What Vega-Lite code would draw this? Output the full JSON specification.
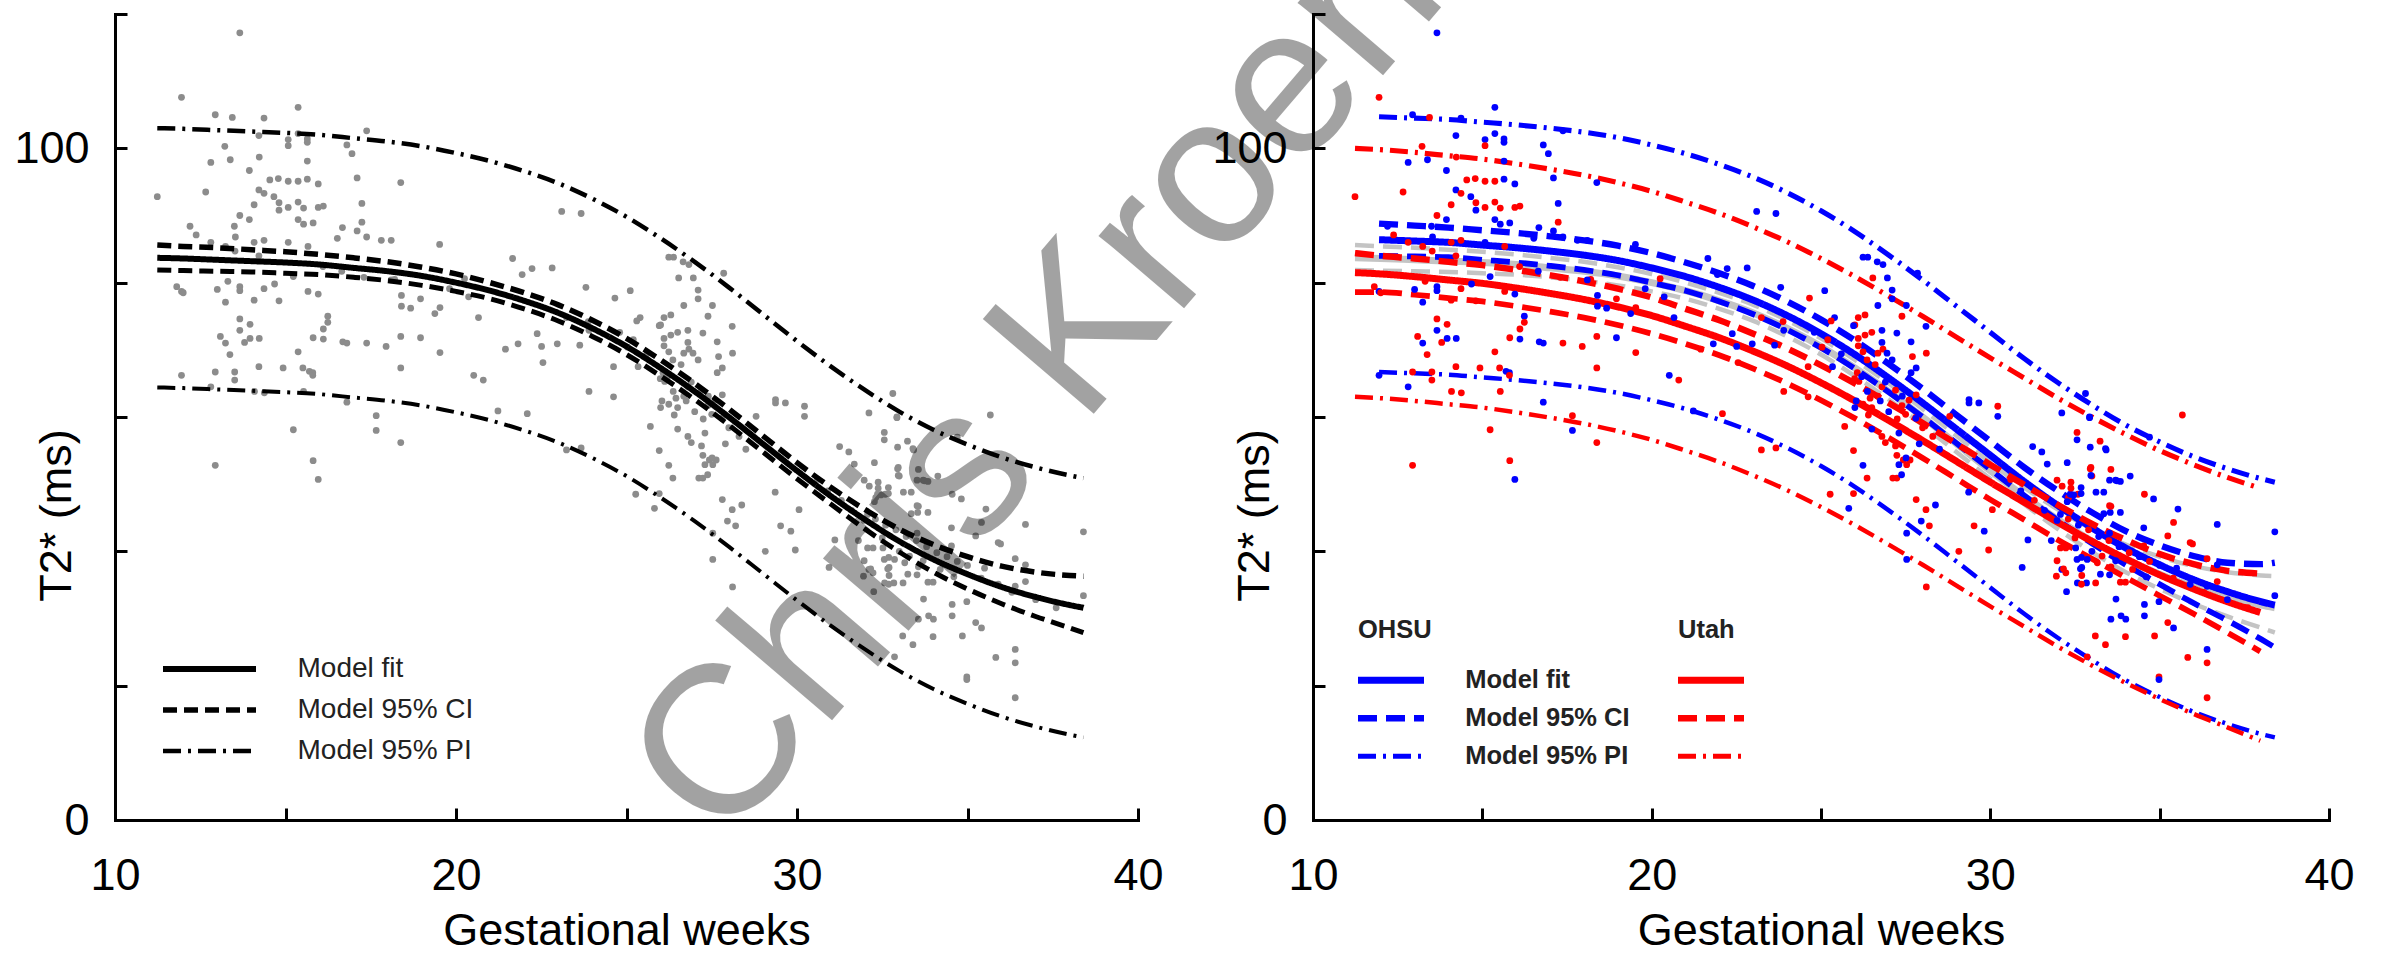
{
"$schema": "https://vega.github.io/schema/vega-lite/v6.json",
"background": "white",
"padding": {"left": 13, "top": -284, "right": 0, "bottom": 0},
"bounds": "flush",
"spacing": 175,
"config": {
  "font": "Liberation Sans",
  "view": {"stroke": null},
  "axis": {"grid": false, "domainColor": "black", "domainWidth": 3, "domainCap": "square", "tickColor": "black", "tickWidth": 3, "tickSize": -12, "labelFont": "Liberation Sans", "labelFontSize": 45, "labelColor": "black", "titleFont": "Liberation Sans", "titleFontSize": 45, "titleFontWeight": "normal", "titleColor": "black", "labelFlush": false, "labelOverlap": false},
  "axisX": {"labelPadding": 45, "titleBaseline": "alphabetic", "titleY": 124},
  "axisY": {"labelPadding": 38, "titleBaseline": "alphabetic", "titleX": -45, "titleY": 501, "titleAngle": 270, "titleAlign": "center"}
},
"datasets": {
"curves": [
{"g":"A","x":11.24,"f":83.7,"cu":85.6,"cl":81.9,"pu":103.0,"pl":64.4},
{"g":"A","x":12,"f":83.6,"cu":85.4,"cl":81.8,"pu":102.9,"pl":64.3},
{"g":"A","x":13,"f":83.4,"cu":85.2,"cl":81.7,"pu":102.7,"pl":64.1},
{"g":"A","x":14,"f":83.2,"cu":84.9,"cl":81.6,"pu":102.5,"pl":63.9},
{"g":"A","x":15,"f":83.0,"cu":84.6,"cl":81.4,"pu":102.3,"pl":63.7},
{"g":"A","x":16,"f":82.7,"cu":84.2,"cl":81.2,"pu":102.0,"pl":63.4},
{"g":"A","x":17,"f":82.2,"cu":83.7,"cl":80.8,"pu":101.5,"pl":62.9},
{"g":"A","x":18,"f":81.7,"cu":83.1,"cl":80.3,"pu":101.0,"pl":62.4},
{"g":"A","x":19,"f":81.0,"cu":82.3,"cl":79.6,"pu":100.3,"pl":61.7},
{"g":"A","x":20,"f":80.0,"cu":81.3,"cl":78.7,"pu":99.3,"pl":60.7},
{"g":"A","x":21,"f":78.8,"cu":80.0,"cl":77.6,"pu":98.1,"pl":59.5},
{"g":"A","x":22,"f":77.3,"cu":78.5,"cl":76.1,"pu":96.6,"pl":58.0},
{"g":"A","x":23,"f":75.5,"cu":76.7,"cl":74.3,"pu":94.8,"pl":56.2},
{"g":"A","x":24,"f":73.2,"cu":74.4,"cl":72.0,"pu":92.5,"pl":53.9},
{"g":"A","x":25,"f":70.5,"cu":71.7,"cl":69.3,"pu":89.8,"pl":51.2},
{"g":"A","x":26,"f":67.3,"cu":68.5,"cl":66.1,"pu":86.6,"pl":48.0},
{"g":"A","x":27,"f":63.8,"cu":65.0,"cl":62.6,"pu":83.1,"pl":44.5},
{"g":"A","x":28,"f":60.0,"cu":61.2,"cl":58.8,"pu":79.3,"pl":40.7},
{"g":"A","x":29,"f":56.0,"cu":57.2,"cl":54.8,"pu":75.3,"pl":36.7},
{"g":"A","x":30,"f":52.0,"cu":53.2,"cl":50.8,"pu":71.3,"pl":32.7},
{"g":"A","x":31,"f":48.2,"cu":49.5,"cl":47.0,"pu":67.5,"pl":28.9},
{"g":"A","x":32,"f":44.7,"cu":46.2,"cl":43.3,"pu":64.0,"pl":25.4},
{"g":"A","x":33,"f":41.5,"cu":43.3,"cl":39.9,"pu":60.8,"pl":22.2},
{"g":"A","x":34,"f":38.8,"cu":41.0,"cl":36.9,"pu":58.1,"pl":19.5},
{"g":"A","x":35,"f":36.6,"cu":39.2,"cl":34.4,"pu":55.9,"pl":17.3},
{"g":"A","x":36,"f":34.7,"cu":37.8,"cl":32.2,"pu":54.0,"pl":15.4},
{"g":"A","x":37,"f":33.2,"cu":36.9,"cl":30.3,"pu":52.5,"pl":13.9},
{"g":"A","x":38,"f":32.0,"cu":36.4,"cl":28.6,"pu":51.3,"pl":12.7},
{"g":"A","x":38.4,"f":31.6,"cu":36.3,"cl":27.9,"pu":50.9,"pl":12.3},
{"g":"O","x":11.95,"f":86.4,"cu":88.8,"cl":84.0,"pu":104.7,"pl":66.7},
{"g":"O","x":13,"f":86.2,"cu":88.5,"cl":83.9,"pu":104.5,"pl":66.5},
{"g":"O","x":14,"f":86.0,"cu":88.2,"cl":83.8,"pu":104.3,"pl":66.3},
{"g":"O","x":15,"f":85.6,"cu":87.8,"cl":83.4,"pu":103.9,"pl":65.9},
{"g":"O","x":16,"f":85.2,"cu":87.4,"cl":83.0,"pu":103.5,"pl":65.5},
{"g":"O","x":17,"f":84.7,"cu":86.9,"cl":82.5,"pu":103.0,"pl":65.0},
{"g":"O","x":18,"f":84.1,"cu":86.3,"cl":81.9,"pu":102.4,"pl":64.4},
{"g":"O","x":19,"f":83.3,"cu":85.5,"cl":81.1,"pu":101.6,"pl":63.6},
{"g":"O","x":20,"f":82.2,"cu":84.4,"cl":80.0,"pu":100.5,"pl":62.5},
{"g":"O","x":21,"f":80.9,"cu":83.0,"cl":78.8,"pu":99.2,"pl":61.2},
{"g":"O","x":22,"f":79.3,"cu":81.4,"cl":77.2,"pu":97.6,"pl":59.6},
{"g":"O","x":23,"f":77.4,"cu":79.5,"cl":75.3,"pu":95.7,"pl":57.7},
{"g":"O","x":24,"f":75.1,"cu":77.2,"cl":73.0,"pu":93.4,"pl":55.4},
{"g":"O","x":25,"f":72.4,"cu":74.5,"cl":70.3,"pu":90.7,"pl":52.7},
{"g":"O","x":26,"f":69.3,"cu":71.4,"cl":67.2,"pu":87.6,"pl":49.6},
{"g":"O","x":27,"f":65.8,"cu":67.9,"cl":63.7,"pu":84.1,"pl":46.1},
{"g":"O","x":28,"f":62.1,"cu":64.2,"cl":60.0,"pu":80.4,"pl":42.4},
{"g":"O","x":29,"f":58.2,"cu":60.3,"cl":56.1,"pu":76.5,"pl":38.5},
{"g":"O","x":30,"f":54.3,"cu":56.4,"cl":52.2,"pu":72.6,"pl":34.6},
{"g":"O","x":31,"f":50.4,"cu":52.5,"cl":48.3,"pu":68.7,"pl":30.7},
{"g":"O","x":32,"f":46.8,"cu":49.0,"cl":44.6,"pu":65.1,"pl":27.1},
{"g":"O","x":33,"f":43.5,"cu":45.8,"cl":41.2,"pu":61.8,"pl":23.8},
{"g":"O","x":34,"f":40.5,"cu":43.0,"cl":38.0,"pu":58.8,"pl":20.8},
{"g":"O","x":35,"f":38.0,"cu":40.9,"cl":35.1,"pu":56.3,"pl":18.3},
{"g":"O","x":36,"f":35.8,"cu":39.3,"cl":32.3,"pu":54.1,"pl":16.1},
{"g":"O","x":37,"f":34.0,"cu":38.3,"cl":29.7,"pu":52.3,"pl":14.3},
{"g":"O","x":38,"f":32.5,"cu":38.1,"cl":26.9,"pu":50.8,"pl":12.8},
{"g":"O","x":38.4,"f":32.0,"cu":38.3,"cl":25.7,"pu":50.3,"pl":12.3},
{"g":"U","x":11.24,"f":81.5,"cu":84.4,"cl":78.6,"pu":100.0,"pl":63.0},
{"g":"U","x":12,"f":81.3,"cu":84.0,"cl":78.6,"pu":99.8,"pl":62.8},
{"g":"U","x":13,"f":80.9,"cu":83.6,"cl":78.2,"pu":99.4,"pl":62.4},
{"g":"U","x":14,"f":80.4,"cu":83.1,"cl":77.7,"pu":98.9,"pl":61.9},
{"g":"U","x":15,"f":79.9,"cu":82.6,"cl":77.2,"pu":98.4,"pl":61.4},
{"g":"U","x":16,"f":79.2,"cu":81.9,"cl":76.5,"pu":97.7,"pl":60.7},
{"g":"U","x":17,"f":78.4,"cu":81.1,"cl":75.7,"pu":96.9,"pl":59.9},
{"g":"U","x":18,"f":77.5,"cu":80.2,"cl":74.8,"pu":96.0,"pl":59.0},
{"g":"U","x":19,"f":76.4,"cu":79.1,"cl":73.7,"pu":94.9,"pl":57.9},
{"g":"U","x":20,"f":75.1,"cu":77.8,"cl":72.4,"pu":93.6,"pl":56.6},
{"g":"U","x":21,"f":73.5,"cu":76.1,"cl":70.9,"pu":92.0,"pl":55.0},
{"g":"U","x":22,"f":71.8,"cu":74.4,"cl":69.2,"pu":90.3,"pl":53.3},
{"g":"U","x":23,"f":69.8,"cu":72.4,"cl":67.2,"pu":88.3,"pl":51.3},
{"g":"U","x":24,"f":67.6,"cu":70.2,"cl":65.0,"pu":86.1,"pl":49.1},
{"g":"U","x":25,"f":65.1,"cu":67.7,"cl":62.5,"pu":83.6,"pl":46.6},
{"g":"U","x":26,"f":62.4,"cu":65.0,"cl":59.8,"pu":80.9,"pl":43.9},
{"g":"U","x":27,"f":59.5,"cu":62.1,"cl":56.9,"pu":78.0,"pl":41.0},
{"g":"U","x":28,"f":56.5,"cu":59.1,"cl":53.9,"pu":75.0,"pl":38.0},
{"g":"U","x":29,"f":53.4,"cu":56.0,"cl":50.8,"pu":71.9,"pl":34.9},
{"g":"U","x":30,"f":50.3,"cu":52.9,"cl":47.7,"pu":68.8,"pl":31.8},
{"g":"U","x":31,"f":47.3,"cu":49.9,"cl":44.7,"pu":65.8,"pl":28.8},
{"g":"U","x":32,"f":44.3,"cu":46.9,"cl":41.7,"pu":62.8,"pl":25.8},
{"g":"U","x":33,"f":41.5,"cu":44.1,"cl":38.9,"pu":60.0,"pl":23.0},
{"g":"U","x":34,"f":38.9,"cu":41.7,"cl":36.1,"pu":57.4,"pl":20.4},
{"g":"U","x":35,"f":36.5,"cu":39.6,"cl":33.4,"pu":55.0,"pl":18.0},
{"g":"U","x":36,"f":34.4,"cu":38.1,"cl":30.7,"pu":52.9,"pl":15.8},
{"g":"U","x":37,"f":32.5,"cu":37.1,"cl":27.9,"pu":51.0,"pl":13.8},
{"g":"U","x":37.97,"f":30.9,"cu":36.7,"cl":25.1,"pu":49.4,"pl":11.8}
],
"pts": [
{"x":11.95,"y":107.6,"s":"U"},{"x":15.37,"y":106.1,"s":"O"},{"x":12.94,"y":105.0,"s":"O"},{"x":13.44,"y":104.6,"s":"U"},{"x":14.37,"y":104.5,"s":"O"},
{"x":17.38,"y":102.6,"s":"O"},{"x":13.22,"y":100.3,"s":"U"},{"x":14.22,"y":101.9,"s":"O"},{"x":15.08,"y":101.3,"s":"O"},{"x":15.08,"y":100.4,"s":"U"},
{"x":15.37,"y":102.2,"s":"O"},{"x":15.64,"y":101.4,"s":"O"},{"x":15.64,"y":100.9,"s":"O"},{"x":16.8,"y":100.5,"s":"O"},{"x":16.95,"y":99.2,"s":"O"},
{"x":14.23,"y":98.7,"s":"U"},{"x":12.81,"y":97.9,"s":"O"},{"x":13.38,"y":98.3,"s":"O"},{"x":13.94,"y":96.7,"s":"O"},{"x":15.64,"y":98.1,"s":"O"},
{"x":12.66,"y":93.5,"s":"U"},{"x":11.24,"y":92.8,"s":"U"},{"x":14.54,"y":95.3,"s":"U"},{"x":14.79,"y":95.5,"s":"U"},{"x":15.08,"y":95.1,"s":"U"},
{"x":15.37,"y":95.1,"s":"U"},{"x":15.64,"y":95.4,"s":"O"},{"x":15.96,"y":94.7,"s":"O"},{"x":17.1,"y":95.6,"s":"O"},{"x":18.38,"y":94.9,"s":"O"},
{"x":14.22,"y":93.8,"s":"O"},{"x":14.37,"y":93.3,"s":"U"},{"x":14.66,"y":92.8,"s":"O"},{"x":14.08,"y":91.6,"s":"U"},{"x":14.81,"y":91.9,"s":"U"},
{"x":14.81,"y":90.8,"s":"O"},{"x":15.08,"y":91.2,"s":"U"},{"x":15.37,"y":92.0,"s":"U"},{"x":15.53,"y":91.1,"s":"U"},{"x":15.96,"y":91.2,"s":"U"},
{"x":16.11,"y":91.4,"s":"U"},{"x":17.24,"y":91.8,"s":"O"},{"x":13.66,"y":90.0,"s":"U"},{"x":13.94,"y":89.4,"s":"O"},{"x":15.37,"y":89.4,"s":"O"},
{"x":15.53,"y":88.7,"s":"O"},{"x":15.81,"y":88.9,"s":"O"},{"x":17.24,"y":89.0,"s":"U"},{"x":16.67,"y":88.2,"s":"O"},{"x":17.1,"y":87.7,"s":"O"},
{"x":12.2,"y":88.4,"s":"O"},{"x":13.5,"y":88.4,"s":"O"},{"x":17.38,"y":86.8,"s":"O"},{"x":17.81,"y":86.3,"s":"O"},{"x":18.1,"y":86.3,"s":"O"},
{"x":19.52,"y":85.7,"s":"O"},{"x":16.52,"y":86.6,"s":"O"},{"x":12.38,"y":87.1,"s":"U"},{"x":12.81,"y":86.0,"s":"U"},{"x":13.24,"y":85.4,"s":"U"},
{"x":13.52,"y":84.7,"s":"U"},{"x":14.08,"y":86.0,"s":"U"},{"x":14.37,"y":86.3,"s":"U"},{"x":13.53,"y":86.8,"s":"O"},{"x":15.08,"y":86.0,"s":"O"},
{"x":15.66,"y":85.4,"s":"U"},{"x":21.66,"y":83.6,"s":"O"},{"x":22.23,"y":82.1,"s":"O"},{"x":21.94,"y":81.2,"s":"O"},{"x":20.25,"y":80.6,"s":"U"},
{"x":14.22,"y":84.0,"s":"U"},{"x":16.1,"y":82.4,"s":"U"},{"x":15.23,"y":80.9,"s":"O"},{"x":16.65,"y":81.7,"s":"O"},{"x":17.3,"y":80.8,"s":"U"},
{"x":18.2,"y":80.5,"s":"U"},{"x":18.1,"y":80.4,"s":"O"},{"x":11.81,"y":79.4,"s":"U"},{"x":11.95,"y":78.7,"s":"O"},{"x":13.31,"y":80.2,"s":"U"},
{"x":13.66,"y":79.4,"s":"O"},{"x":13.66,"y":78.8,"s":"O"},{"x":14.37,"y":79.1,"s":"U"},{"x":14.68,"y":79.8,"s":"O"},{"x":14.08,"y":77.4,"s":"U"},
{"x":14.81,"y":77.3,"s":"U"},{"x":13.24,"y":77.1,"s":"O"},{"x":15.66,"y":78.7,"s":"U"},{"x":15.96,"y":78.3,"s":"O"},{"x":18.4,"y":78.1,"s":"O"},
{"x":18.4,"y":76.5,"s":"O"},{"x":18.67,"y":76.2,"s":"O"},{"x":18.96,"y":77.6,"s":"U"},{"x":19.53,"y":76.3,"s":"U"},{"x":19.38,"y":75.4,"s":"O"},
{"x":19.81,"y":79.1,"s":"O"},{"x":20.37,"y":77.9,"s":"O"},{"x":20.66,"y":74.8,"s":"O"},{"x":21.82,"y":70.9,"s":"O"},{"x":22.38,"y":72.4,"s":"O"},
{"x":22.55,"y":68.1,"s":"U"},{"x":22.51,"y":70.5,"s":"O"},{"x":16.24,"y":75.0,"s":"O"},{"x":16.24,"y":74.1,"s":"U"},{"x":16.11,"y":73.1,"s":"U"},
{"x":13.66,"y":74.6,"s":"U"},{"x":13.66,"y":72.9,"s":"O"},{"x":13.96,"y":73.8,"s":"U"},{"x":13.09,"y":72.0,"s":"U"},{"x":13.24,"y":71.0,"s":"O"},
{"x":13.8,"y":71.1,"s":"U"},{"x":13.96,"y":71.7,"s":"O"},{"x":14.23,"y":71.7,"s":"O"},{"x":13.37,"y":69.3,"s":"U"},{"x":15.81,"y":71.8,"s":"U"},
{"x":16.11,"y":71.6,"s":"O"},{"x":16.68,"y":71.2,"s":"O"},{"x":16.8,"y":71.0,"s":"O"},{"x":17.38,"y":71.0,"s":"U"},{"x":17.95,"y":70.5,"s":"U"},
{"x":18.38,"y":72.0,"s":"U"},{"x":18.96,"y":71.8,"s":"O"},{"x":19.53,"y":69.6,"s":"U"},{"x":15.37,"y":69.7,"s":"U"},{"x":14.22,"y":67.5,"s":"U"},
{"x":14.93,"y":67.3,"s":"U"},{"x":15.51,"y":67.3,"s":"U"},{"x":15.7,"y":66.8,"s":"O"},{"x":15.8,"y":66.6,"s":"O"},{"x":15.8,"y":66.2,"s":"U"},
{"x":18.38,"y":67.3,"s":"U"},{"x":20.52,"y":66.2,"s":"O"},{"x":20.8,"y":65.5,"s":"U"},{"x":11.95,"y":66.2,"s":"O"},{"x":12.94,"y":66.7,"s":"U"},
{"x":13.51,"y":66.7,"s":"U"},{"x":13.51,"y":65.5,"s":"U"},{"x":12.81,"y":64.5,"s":"O"},{"x":14.09,"y":63.8,"s":"U"},{"x":14.38,"y":63.6,"s":"U"},
{"x":15.53,"y":63.8,"s":"U"},{"x":16.8,"y":62.2,"s":"O"},{"x":21.23,"y":60.9,"s":"O"},{"x":22.09,"y":60.5,"s":"U"},{"x":17.66,"y":60.2,"s":"U"},
{"x":17.66,"y":58.0,"s":"O"},{"x":15.23,"y":58.1,"s":"U"},{"x":18.38,"y":56.2,"s":"U"},{"x":15.81,"y":53.5,"s":"U"},{"x":15.96,"y":50.7,"s":"O"},
{"x":12.94,"y":52.8,"s":"U"},{"x":13.66,"y":117.2,"s":"O"},{"x":12.0,"y":78.5,"s":"U"},{"x":13.0,"y":79.0,"s":"O"},
{"x":23.1,"y":90.6,"s":"O"},{"x":23.67,"y":90.3,"s":"O"},{"x":22.82,"y":82.2,"s":"O"},{"x":26.24,"y":83.8,"s":"O"},{"x":26.38,"y":83.8,"s":"O"},
{"x":26.66,"y":83.1,"s":"O"},{"x":26.83,"y":82.7,"s":"O"},{"x":27.85,"y":81.4,"s":"O"},{"x":26.96,"y":80.7,"s":"O"},{"x":26.53,"y":80.7,"s":"U"},
{"x":23.81,"y":79.3,"s":"O"},{"x":25.11,"y":78.8,"s":"O"},{"x":24.66,"y":77.7,"s":"U"},{"x":27.1,"y":78.9,"s":"O"},{"x":27.1,"y":77.6,"s":"O"},
{"x":27.52,"y":76.6,"s":"O"},{"x":26.68,"y":76.6,"s":"O"},{"x":27.39,"y":75.0,"s":"U"},{"x":28.1,"y":73.5,"s":"O"},{"x":26.3,"y":75.2,"s":"U"},
{"x":26.1,"y":74.8,"s":"U"},{"x":26.0,"y":73.7,"s":"U"},{"x":25.4,"y":74.8,"s":"O"},{"x":25.3,"y":74.3,"s":"U"},{"x":25.96,"y":73.6,"s":"O"},
{"x":26.8,"y":72.9,"s":"O"},{"x":27.24,"y":72.5,"s":"O"},{"x":26.5,"y":72.6,"s":"U"},{"x":26.1,"y":71.7,"s":"U"},{"x":26.3,"y":72.2,"s":"U"},
{"x":26.8,"y":71.1,"s":"O"},{"x":27.66,"y":71.2,"s":"O"},{"x":28.11,"y":69.5,"s":"U"},{"x":26.83,"y":70.1,"s":"U"},{"x":26.68,"y":69.5,"s":"U"},
{"x":26.95,"y":69.5,"s":"O"},{"x":26.24,"y":69.7,"s":"U"},{"x":26.36,"y":68.5,"s":"U"},{"x":26.07,"y":66.6,"s":"U"},{"x":25.99,"y":65.7,"s":"U"},
{"x":26.12,"y":65.3,"s":"U"},{"x":27.1,"y":68.5,"s":"O"},{"x":27.66,"y":66.6,"s":"O"},{"x":27.81,"y":67.3,"s":"O"},{"x":26.8,"y":64.5,"s":"U"},
{"x":27.81,"y":63.3,"s":"U"},{"x":26.37,"y":63.8,"s":"O"},{"x":26.45,"y":62.8,"s":"U"},{"x":26.68,"y":63.1,"s":"U"},{"x":26.5,"y":61.4,"s":"U"},
{"x":26.24,"y":61.9,"s":"U"},{"x":26.04,"y":62.4,"s":"O"},{"x":26.75,"y":62.4,"s":"O"},{"x":26.0,"y":61.4,"s":"O"},{"x":27.39,"y":61.7,"s":"U"},
{"x":27.5,"y":60.4,"s":"U"},{"x":27.25,"y":59.7,"s":"U"},{"x":25.7,"y":58.6,"s":"U"},{"x":26.5,"y":58.2,"s":"O"},{"x":26.8,"y":57.1,"s":"U"},
{"x":27.2,"y":55.7,"s":"U"},{"x":27.24,"y":54.3,"s":"U"},{"x":27.43,"y":53.6,"s":"U"},{"x":27.63,"y":53.6,"s":"U"},{"x":27.53,"y":52.9,"s":"U"},
{"x":27.12,"y":50.9,"s":"U"},{"x":27.24,"y":50.9,"s":"U"},{"x":27.51,"y":53.9,"s":"O"},{"x":27.38,"y":51.4,"s":"O"},{"x":27.3,"y":52.9,"s":"O"},
{"x":26.24,"y":52.8,"s":"O"},{"x":26.36,"y":50.9,"s":"U"},{"x":25.96,"y":55.0,"s":"U"},{"x":25.27,"y":48.5,"s":"U"},{"x":25.96,"y":48.6,"s":"U"},
{"x":25.82,"y":46.4,"s":"O"},{"x":23.24,"y":55.1,"s":"U"},{"x":23.67,"y":55.4,"s":"U"},{"x":27.81,"y":47.7,"s":"U"},{"x":28.1,"y":46.2,"s":"U"},
{"x":28.38,"y":46.9,"s":"O"},{"x":28.2,"y":43.8,"s":"U"},{"x":27.96,"y":44.5,"s":"O"},{"x":27.53,"y":42.7,"s":"O"},{"x":27.53,"y":38.8,"s":"O"},
{"x":28.11,"y":34.7,"s":"U"},{"x":29.07,"y":40.0,"s":"U"},{"x":29.95,"y":40.2,"s":"U"},{"x":29.82,"y":43.0,"s":"O"},{"x":29.52,"y":43.8,"s":"U"},
{"x":30.06,"y":46.2,"s":"U"},{"x":29.36,"y":48.8,"s":"O"},{"x":28.8,"y":60.1,"s":"U"},{"x":29.37,"y":62.6,"s":"O"},{"x":29.37,"y":62.1,"s":"O"},
{"x":29.66,"y":62.1,"s":"O"},{"x":30.22,"y":61.6,"s":"U"},{"x":30.22,"y":60.1,"s":"O"},{"x":32.11,"y":60.6,"s":"O"},{"x":32.81,"y":63.5,"s":"O"},
{"x":32.93,"y":59.9,"s":"O"},{"x":32.56,"y":57.7,"s":"U"},{"x":32.56,"y":56.6,"s":"O"},{"x":31.25,"y":55.6,"s":"O"},{"x":31.52,"y":54.8,"s":"O"},
{"x":31.68,"y":53.0,"s":"O"},{"x":32.27,"y":53.2,"s":"O"},{"x":32.95,"y":55.5,"s":"O"},{"x":33.24,"y":56.4,"s":"U"},{"x":33.42,"y":55.1,"s":"O"},
{"x":32.95,"y":52.3,"s":"U"},{"x":33.0,"y":51.2,"s":"U"},{"x":33.52,"y":50.6,"s":"O"},{"x":33.7,"y":50.6,"s":"O"},{"x":33.35,"y":48.8,"s":"O"},
{"x":31.97,"y":50.6,"s":"U"},{"x":32.38,"y":50.3,"s":"U"},{"x":32.59,"y":48.5,"s":"U"},{"x":32.31,"y":48.0,"s":"U"},{"x":32.36,"y":48.5,"s":"O"},
{"x":32.27,"y":47.4,"s":"O"},{"x":33.52,"y":46.8,"s":"U"},{"x":33.54,"y":45.8,"s":"O"},{"x":33.35,"y":45.6,"s":"O"},{"x":31.97,"y":44.6,"s":"O"},
{"x":32.07,"y":45.5,"s":"O"},{"x":31.8,"y":41.6,"s":"O"},{"x":31.11,"y":41.7,"s":"O"},{"x":30.94,"y":37.6,"s":"O"},{"x":32.07,"y":40.5,"s":"U"},
{"x":32.23,"y":40.5,"s":"U"},{"x":32.52,"y":40.5,"s":"O"},{"x":32.69,"y":39.1,"s":"O"},{"x":31.97,"y":38.6,"s":"U"},{"x":32.11,"y":37.3,"s":"O"},
{"x":32.66,"y":37.4,"s":"O"},{"x":32.23,"y":36.8,"s":"U"},{"x":31.95,"y":36.3,"s":"U"},{"x":32.25,"y":34.0,"s":"O"},{"x":32.57,"y":35.3,"s":"O"},
{"x":32.84,"y":35.3,"s":"O"},{"x":32.69,"y":35.1,"s":"U"},{"x":33.11,"y":35.3,"s":"U"},{"x":33.16,"y":38.3,"s":"U"},{"x":33.52,"y":36.5,"s":"O"},
{"x":33.52,"y":42.7,"s":"O"},{"x":22.97,"y":70.9,"s":"O"},{"x":23.88,"y":74.2,"s":"U"},{"x":23.24,"y":74.8,"s":"U"},{"x":23.9,"y":72.9,"s":"O"},
{"x":23.63,"y":70.7,"s":"O"},{"x":25.03,"y":70.4,"s":"U"},{"x":25.34,"y":67.5,"s":"O"},{"x":24.62,"y":67.5,"s":"U"},{"x":23.9,"y":63.8,"s":"U"},
{"x":24.62,"y":63.0,"s":"U"},{"x":21.45,"y":70.1,"s":"U"},
{"x":35.67,"y":60.3,"s":"U"},{"x":32.93,"y":60.0,"s":"O"},{"x":34.7,"y":57.0,"s":"O"},{"x":33.4,"y":55.3,"s":"O"},{"x":32.97,"y":52.5,"s":"U"},
{"x":33.56,"y":52.2,"s":"U"},{"x":32.97,"y":51.3,"s":"O"},{"x":33.74,"y":50.5,"s":"O"},{"x":33.84,"y":50.4,"s":"O"},{"x":34.13,"y":51.2,"s":"O"},
{"x":34.55,"y":48.5,"s":"U"},{"x":34.82,"y":47.8,"s":"O"},{"x":32.12,"y":49.7,"s":"U"},{"x":32.38,"y":49.4,"s":"U"},{"x":32.68,"y":49.5,"s":"O"},
{"x":32.68,"y":48.6,"s":"O"},{"x":32.46,"y":48.4,"s":"O"},{"x":33.12,"y":48.8,"s":"O"},{"x":33.56,"y":46.7,"s":"U"},{"x":33.84,"y":45.8,"s":"O"},
{"x":35.54,"y":46.3,"s":"O"},{"x":35.41,"y":44.3,"s":"U"},{"x":34.53,"y":43.5,"s":"O"},{"x":36.7,"y":44.0,"s":"O"},{"x":35.24,"y":42.3,"s":"U"},
{"x":35.97,"y":41.1,"s":"U"},{"x":38.4,"y":42.9,"s":"O"},{"x":32.16,"y":37.4,"s":"U"},{"x":32.56,"y":38.8,"s":"O"},{"x":32.7,"y":37.6,"s":"O"},
{"x":32.86,"y":38.8,"s":"O"},{"x":32.7,"y":36.4,"s":"U"},{"x":33.25,"y":36.6,"s":"O"},{"x":33.56,"y":37.7,"s":"U"},{"x":33.71,"y":32.9,"s":"O"},
{"x":33.84,"y":35.4,"s":"U"},{"x":33.99,"y":35.4,"s":"U"},{"x":34.55,"y":32.1,"s":"O"},{"x":34.55,"y":30.4,"s":"O"},{"x":33.56,"y":29.9,"s":"O"},
{"x":33.86,"y":30.4,"s":"O"},{"x":34.0,"y":29.9,"s":"O"},{"x":33.1,"y":27.4,"s":"U"},{"x":33.4,"y":26.1,"s":"U"},{"x":33.99,"y":27.3,"s":"U"},
{"x":34.85,"y":27.4,"s":"U"},{"x":35.24,"y":29.4,"s":"U"},{"x":35.41,"y":28.6,"s":"O"},{"x":34.98,"y":32.5,"s":"O"},{"x":34.98,"y":21.3,"s":"U"},
{"x":34.98,"y":20.9,"s":"O"},{"x":35.83,"y":24.2,"s":"U"},{"x":36.4,"y":23.4,"s":"U"},{"x":36.4,"y":25.4,"s":"O"},{"x":36.4,"y":18.2,"s":"U"},
{"x":32.86,"y":24.3,"s":"U"},{"x":38.4,"y":33.4,"s":"O"},{"x":36.7,"y":35.5,"s":"U"},{"x":36.4,"y":34.8,"s":"O"},{"x":36.7,"y":38.0,"s":"O"},
{"x":35.9,"y":41.3,"s":"U"},{"x":35.5,"y":37.5,"s":"O"},{"x":36.4,"y":38.9,"s":"U"},{"x":34.53,"y":40.8,"s":"U"},
{"x":26.2,"y":66.0,"s":"O"},{"x":26.6,"y":67.8,"s":"U"},{"x":26.9,"y":65.2,"s":"O"},{"x":27.2,"y":64.0,"s":"U"},{"x":27.4,"y":63.1,"s":"O"},
{"x":27.6,"y":62.5,"s":"U"},{"x":27.0,"y":60.8,"s":"O"},{"x":26.4,"y":60.3,"s":"U"},{"x":27.8,"y":59.8,"s":"O"},{"x":28.0,"y":58.4,"s":"U"},
{"x":27.3,"y":57.6,"s":"O"},{"x":26.9,"y":56.2,"s":"U"},{"x":27.9,"y":56.0,"s":"O"},{"x":28.3,"y":57.1,"s":"U"},{"x":28.5,"y":55.2,"s":"O"},
{"x":26.1,"y":70.6,"s":"U"},{"x":25.6,"y":69.4,"s":"O"},{"x":25.2,"y":71.5,"s":"U"},{"x":24.8,"y":72.6,"s":"O"},{"x":27.7,"y":69.0,"s":"U"},
{"x":32.3,"y":44.8,"s":"U"},{"x":32.6,"y":43.9,"s":"O"},{"x":32.9,"y":43.2,"s":"U"},{"x":33.2,"y":42.2,"s":"O"},{"x":33.5,"y":41.6,"s":"U"},
{"x":33.8,"y":40.7,"s":"O"},{"x":34.1,"y":39.8,"s":"U"},{"x":34.4,"y":39.2,"s":"O"},{"x":34.7,"y":38.5,"s":"U"},{"x":35.0,"y":37.9,"s":"O"},
{"x":33.0,"y":40.0,"s":"O"},{"x":33.3,"y":39.3,"s":"U"},{"x":33.7,"y":38.6,"s":"O"},{"x":34.2,"y":37.3,"s":"U"},{"x":34.6,"y":36.2,"s":"O"},
{"x":32.5,"y":42.0,"s":"U"},{"x":31.6,"y":46.1,"s":"O"},{"x":31.3,"y":47.6,"s":"U"},{"x":30.9,"y":49.0,"s":"O"},{"x":30.6,"y":50.7,"s":"U"},
{"x":35.4,"y":36.0,"s":"U"},{"x":35.9,"y":35.1,"s":"O"},{"x":36.3,"y":33.9,"s":"U"},{"x":37.0,"y":32.8,"s":"O"},{"x":37.6,"y":31.6,"s":"U"}
]
},
"hconcat": [
{
  "width": 1023, "height": 806,
  "layer": [
    {
      "data": {"name": "pts"},
      "mark": {"type": "circle", "size": 46, "color": "#8c8c8c", "opacity": 1},
      "encoding": {
        "x": {"field": "x", "type": "quantitative", "scale": {"domain": [10, 40], "nice": false, "zero": false}, "axis": {"values": [10, 15, 20, 25, 30, 35, 40], "labelExpr": "datum.value % 10 == 0 ? datum.label : ''", "title": "Gestational weeks"}},
        "y": {"field": "y", "type": "quantitative", "scale": {"domain": [0, 120], "nice": false}, "axis": {"values": [0, 20, 40, 60, 80, 100, 120], "labelExpr": "datum.value == 0 || datum.value == 100 ? datum.label : ''", "title": "T2* (ms)"}}
      }
    },
    {
      "data": {"name": "curves"},
      "transform": [{"filter": "datum.g == 'A'"}, {"fold": ["f", "cu", "cl", "pu", "pl"], "as": ["k", "v"]}],
      "mark": {"type": "line", "color": "black", "interpolate": "monotone"},
      "encoding": {
        "x": {"field": "x", "type": "quantitative", "title": "Gestational weeks"},
        "y": {"field": "v", "type": "quantitative", "title": "T2* (ms)"},
        "strokeDash": {"field": "k", "type": "nominal", "scale": {"domain": ["f", "cu", "cl", "pu", "pl"], "range": [[1, 0], [14, 7], [14, 7], [18, 7, 3, 7], [18, 7, 3, 7]]},
          "legend": {"title": null, "orient": "none", "legendX": 48, "legendY": 641, "padding": 0, "values": ["f", "cu", "pu"], "labelExpr": "datum.value == 'f' ? 'Model fit' : datum.value == 'cu' ? 'Model 95% CI' : 'Model 95% PI'", "symbolType": "M-7.75,0H7.75", "symbolSize": 144, "symbolOffset": 32.5, "labelOffset": 74, "rowPadding": 13, "labelFont": "Liberation Sans", "labelFontSize": 28, "labelColor": "#222222", "labelLimit": 500, "symbolStrokeColor": "black"}},
        "strokeWidth": {"field": "k", "type": "ordinal", "scale": {"domain": ["f", "cu", "cl", "pu", "pl"], "range": [6, 4, 4, 1.6, 1.6]},
          "legend": {"title": null, "orient": "none", "legendX": 48, "legendY": 641, "padding": 0, "values": ["f", "cu", "pu"], "labelExpr": "datum.value == 'f' ? 'Model fit' : datum.value == 'cu' ? 'Model 95% CI' : 'Model 95% PI'", "symbolType": "M-7.75,0H7.75", "symbolSize": 144, "symbolOffset": 32.5, "labelOffset": 74, "rowPadding": 13, "labelFont": "Liberation Sans", "labelFontSize": 28, "labelColor": "#222222", "labelLimit": 500, "symbolStrokeColor": "black"}}
      }
    }
  ]
},
{
  "width": 1016, "height": 806,
  "resolve": {"scale": {"strokeDash": "independent", "strokeWidth": "independent"}},
  "layer": [
    {
      "data": {"name": "curves"},
      "transform": [{"filter": "datum.g == 'A'"}],
      "mark": {"type": "line", "color": "#c4c4c4", "strokeWidth": 7, "interpolate": "monotone"},
      "encoding": {
        "x": {"field": "x", "type": "quantitative", "scale": {"domain": [10, 40], "nice": false, "zero": false}, "axis": {"values": [10, 15, 20, 25, 30, 35, 40], "labelExpr": "datum.value % 10 == 0 ? datum.label : ''", "title": "Gestational weeks"}},
        "y": {"field": "f", "type": "quantitative", "scale": {"domain": [0, 120], "nice": false}, "axis": {"values": [0, 20, 40, 60, 80, 100, 120], "labelExpr": "datum.value == 0 || datum.value == 100 ? datum.label : ''", "title": "T2* (ms)"}}
      }
    },
    {
      "data": {"name": "curves"},
      "transform": [{"filter": "datum.g == 'A'"}],
      "mark": {"type": "line", "color": "#c4c4c4", "strokeWidth": 4.5, "strokeDash": [19, 9], "interpolate": "monotone"},
      "encoding": {"x": {"field": "x", "type": "quantitative", "title": "Gestational weeks"}, "y": {"field": "cu", "type": "quantitative", "title": "T2* (ms)"}}
    },
    {
      "data": {"name": "curves"},
      "transform": [{"filter": "datum.g == 'A'"}],
      "mark": {"type": "line", "color": "#c4c4c4", "strokeWidth": 4.5, "strokeDash": [19, 9], "interpolate": "monotone"},
      "encoding": {"x": {"field": "x", "type": "quantitative", "title": "Gestational weeks"}, "y": {"field": "cl", "type": "quantitative", "title": "T2* (ms)"}}
    },
    {
      "data": {"name": "curves"},
      "transform": [{"filter": "datum.g == 'O'"}, {"fold": ["f", "cu", "cl", "pu", "pl"], "as": ["k", "v"]}],
      "mark": {"type": "line", "color": "#0000ff", "interpolate": "monotone"},
      "encoding": {
        "x": {"field": "x", "type": "quantitative", "title": "Gestational weeks"},
        "y": {"field": "v", "type": "quantitative", "title": "T2* (ms)"},
        "strokeDash": {"field": "k", "type": "nominal", "scale": {"domain": ["f", "cu", "cl", "pu", "pl"], "range": [[1, 0], [19, 9], [19, 9], [18, 7, 3, 7], [18, 7, 3, 7]]},
          "legend": {"title": "OHSU", "orient": "none", "legendX": 45, "legendY": 604, "padding": 0, "values": ["f", "cu", "pu"], "labelExpr": "datum.value == 'f' ? 'Model fit' : datum.value == 'cu' ? 'Model 95% CI' : 'Model 95% PI'", "symbolType": "M-5.5,0H5.5", "symbolSize": 144, "symbolOffset": 20.25, "labelOffset": 61.5, "rowPadding": 11, "titlePadding": 24, "titleFont": "Liberation Sans", "titleFontSize": 25.5, "titleFontWeight": "bold", "titleColor": "#222222", "labelFont": "Liberation Sans", "labelFontSize": 25.5, "labelFontWeight": "bold", "labelColor": "#222222", "labelLimit": 500, "symbolStrokeColor": "#0000ff"}},
        "strokeWidth": {"field": "k", "type": "ordinal", "scale": {"domain": ["f", "cu", "cl", "pu", "pl"], "range": [7, 4.5, 4.5, 1.6, 1.6]},
          "legend": {"title": "OHSU", "orient": "none", "legendX": 45, "legendY": 604, "padding": 0, "values": ["f", "cu", "pu"], "labelExpr": "datum.value == 'f' ? 'Model fit' : datum.value == 'cu' ? 'Model 95% CI' : 'Model 95% PI'", "symbolType": "M-5.5,0H5.5", "symbolSize": 144, "symbolOffset": 20.25, "labelOffset": 61.5, "rowPadding": 11, "titlePadding": 24, "titleFont": "Liberation Sans", "titleFontSize": 25.5, "titleFontWeight": "bold", "titleColor": "#222222", "labelFont": "Liberation Sans", "labelFontSize": 25.5, "labelFontWeight": "bold", "labelColor": "#222222", "labelLimit": 500, "symbolStrokeColor": "#0000ff"}}
      }
    },
    {
      "data": {"name": "curves"},
      "transform": [{"filter": "datum.g == 'U'"}, {"fold": ["f", "cu", "cl", "pu", "pl"], "as": ["k", "v"]}],
      "mark": {"type": "line", "color": "#ff0000", "interpolate": "monotone"},
      "encoding": {
        "x": {"field": "x", "type": "quantitative", "title": "Gestational weeks"},
        "y": {"field": "v", "type": "quantitative", "title": "T2* (ms)"},
        "strokeDash": {"field": "k", "type": "nominal", "scale": {"domain": ["f", "cu", "cl", "pu", "pl"], "range": [[1, 0], [19, 9], [19, 9], [18, 7, 3, 7], [18, 7, 3, 7]]},
          "legend": {"title": "Utah", "orient": "none", "legendX": 365, "legendY": 604, "padding": 0, "values": ["f", "cu", "pu"], "labelExpr": "''", "symbolType": "M-5.5,0H5.5", "symbolSize": 144, "symbolOffset": 20.25, "labelOffset": 61.5, "rowPadding": 11, "titlePadding": 24, "titleFont": "Liberation Sans", "titleFontSize": 25.5, "titleFontWeight": "bold", "titleColor": "#222222", "labelFont": "Liberation Sans", "labelFontSize": 25.5, "labelFontWeight": "bold", "labelColor": "#222222", "symbolStrokeColor": "#ff0000"}},
        "strokeWidth": {"field": "k", "type": "ordinal", "scale": {"domain": ["f", "cu", "cl", "pu", "pl"], "range": [7, 4.5, 4.5, 1.6, 1.6]},
          "legend": {"title": "Utah", "orient": "none", "legendX": 365, "legendY": 604, "padding": 0, "values": ["f", "cu", "pu"], "labelExpr": "''", "symbolType": "M-5.5,0H5.5", "symbolSize": 144, "symbolOffset": 20.25, "labelOffset": 61.5, "rowPadding": 11, "titlePadding": 24, "titleFont": "Liberation Sans", "titleFontSize": 25.5, "titleFontWeight": "bold", "titleColor": "#222222", "labelFont": "Liberation Sans", "labelFontSize": 25.5, "labelFontWeight": "bold", "labelColor": "#222222", "symbolStrokeColor": "#ff0000"}}
      }
    },
    {
      "data": {"name": "pts"},
      "mark": {"type": "circle", "size": 46, "opacity": 1},
      "encoding": {
        "x": {"field": "x", "type": "quantitative", "title": "Gestational weeks"},
        "y": {"field": "y", "type": "quantitative", "title": "T2* (ms)"},
        "color": {"field": "s", "type": "nominal", "scale": {"domain": ["O", "U"], "range": ["#0000ff", "#ff0000"]}, "legend": null}
      }
    },
    {
      "data": {"values": [{"t": "Chris Kroenke"}]},
      "mark": {"type": "text", "font": "Liberation Sans", "fontSize": 212, "angle": -49.5, "align": "left", "baseline": "alphabetic", "color": "black", "opacity": 0.36},
      "encoding": {
        "text": {"field": "t"},
        "x": {"datum": -7.42, "type": "quantitative"},
        "y": {"datum": -4.17, "type": "quantitative"}
      }
    }
  ]
}
]
}
